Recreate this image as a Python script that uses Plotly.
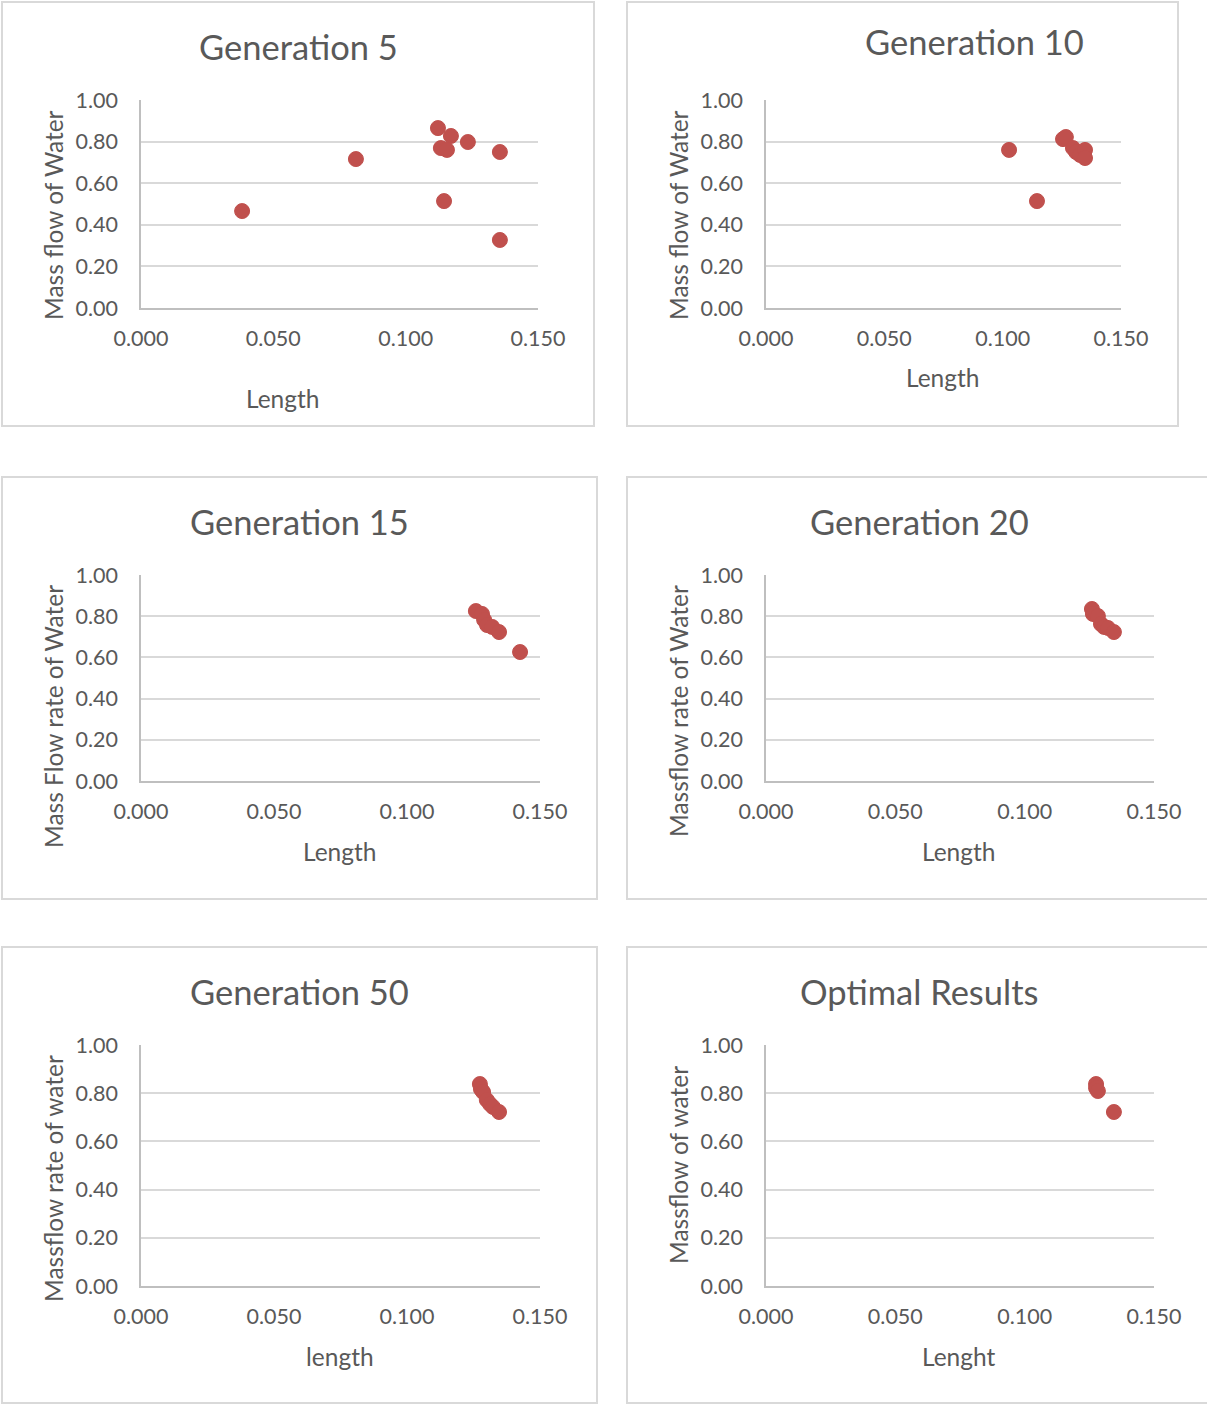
import plotly.graph_objects as go

W, H = 1207, 1405

# ---- data ----
gen5_length = [0.0382, 0.0812, 0.1122, 0.1171, 0.1133, 0.1156, 0.1235, 0.1356, 0.1145, 0.1356]
gen5_flow = [0.466, 0.716, 0.865, 0.827, 0.769, 0.760, 0.798, 0.750, 0.514, 0.327]

gen10_length = [0.1027, 0.1145, 0.1255, 0.1267, 0.1297, 0.1310, 0.1327, 0.1348, 0.1348]
gen10_flow = [0.760, 0.514, 0.812, 0.822, 0.769, 0.750, 0.736, 0.760, 0.721]

gen15_length = [0.1259, 0.1282, 0.1290, 0.1301, 0.1320, 0.1346, 0.1425]
gen15_flow = [0.825, 0.811, 0.782, 0.757, 0.748, 0.723, 0.626]

gen20_length = [0.1260, 0.1264, 0.1283, 0.1295, 0.1307, 0.1322, 0.1345]
gen20_flow = [0.835, 0.811, 0.801, 0.762, 0.748, 0.743, 0.723]

gen50_length = [0.1274, 0.1278, 0.1286, 0.1300, 0.1312, 0.1323, 0.1346]
gen50_flow = [0.838, 0.817, 0.805, 0.772, 0.755, 0.743, 0.722]

opt_length = [0.1276, 0.1276, 0.1283, 0.1345]
opt_flow = [0.838, 0.822, 0.809, 0.722]

titles = ["Generation 5", "Generation 10", "Generation 15", "Generation 20", "Generation 50", "Optimal Results"]
x_titles = ["Length", "Length", "Length", "Length", "length", "Lenght"]
y_titles = ["Mass flow of Water", "Mass flow of Water", "Mass Flow rate of Water",
            "Massflow rate of Water", "Massflow rate of water", "Massflow of water"]
series = [(gen5_length, gen5_flow), (gen10_length, gen10_flow), (gen15_length, gen15_flow),
          (gen20_length, gen20_flow), (gen50_length, gen50_flow), (opt_length, opt_flow)]

# ---- layout geometry (pixels) ----
plot_px = [(141, 538, 100, 308), (766, 1121, 100, 308),
           (141, 540, 575, 781), (766, 1154, 575, 781),
           (141, 540, 1045, 1286), (766, 1154, 1045, 1286)]
box_px = [(2, 594, 2, 426), (627, 1178, 2, 426),
          (2, 597, 477, 899), (627, 1210, 477, 899),
          (2, 597, 947, 1403), (627, 1210, 947, 1403)]
title_px = [(298, 47), (974, 42), (299, 521), (919, 521), (299, 991), (919, 991)]
xt_px = [(283, 398), (943, 378), (340, 851), (959, 851), (340, 1356), (959, 1356)]
yt_px = [(53, 215), (678, 215), (53, 717), (678, 711), (53, 1179), (678, 1165)]

FONT = "Lato"
GREY = "#595959"
RED = "#c0504d"

def px(x):
    return x / W

def py(y):
    return 1 - y / H

fig = go.Figure()
shapes = []
annotations = []
layout = dict(width=W, height=H, autosize=False, margin=dict(l=0, r=0, t=0, b=0, pad=0),
              paper_bgcolor="white", plot_bgcolor="white", showlegend=False,
              font=dict(family=FONT, color=GREY))

for i, ((xs, ys), (l, r, t, b)) in enumerate(zip(series, plot_px)):
    n = i + 1
    xa = "x" if n == 1 else f"x{n}"
    ya = "y" if n == 1 else f"y{n}"
    fig.add_trace(go.Scatter(x=xs, y=ys, mode="markers", xaxis=xa, yaxis=ya,
                             marker=dict(size=15, color=RED, line=dict(width=1, color=RED))))
    key = "" if n == 1 else str(n)
    layout["xaxis" + key] = dict(domain=[px(l), px(r)], anchor=ya, range=[0, 0.15],
                                 tickvals=[0, 0.05, 0.10, 0.15], tickformat=".3f",
                                 showgrid=False, zeroline=False, showline=True,
                                 linecolor="#bfbfbf", linewidth=1.5, ticks="",
                                 ticklabelstandoff=10, automargin=False,
                                 tickfont=dict(family=FONT, size=21.5, color=GREY))
    layout["yaxis" + key] = dict(domain=[py(b), py(t)], anchor=xa, range=[0, 1.0],
                                 tickvals=[0, 0.2, 0.4, 0.6, 0.8, 1.0], tickformat=".2f",
                                 showgrid=True, gridcolor="#d9d9d9", gridwidth=1.5,
                                 zeroline=False, showline=True, linecolor="#bfbfbf",
                                 linewidth=1.5, ticks="", ticklabelstandoff=17,
                                 automargin=False,
                                 tickfont=dict(family=FONT, size=21.5, color=GREY))

for (bl, br, bt, bb) in box_px:
    shapes.append(dict(type="rect", xref="paper", yref="paper",
                       x0=px(bl), x1=px(br), y0=py(bb), y1=py(bt),
                       line=dict(color="#d9d9d9", width=2), fillcolor="rgba(0,0,0,0)"))

for txt, (cx, cy) in zip(titles, title_px):
    annotations.append(dict(text=txt, x=px(cx), y=py(cy), xref="paper", yref="paper",
                            showarrow=False, xanchor="center", yanchor="middle",
                            font=dict(family=FONT, size=34.5, color=GREY)))
for txt, (cx, cy) in zip(x_titles, xt_px):
    annotations.append(dict(text=txt, x=px(cx), y=py(cy), xref="paper", yref="paper",
                            showarrow=False, xanchor="center", yanchor="middle",
                            font=dict(family=FONT, size=24.5, color=GREY)))
for txt, (cx, cy) in zip(y_titles, yt_px):
    annotations.append(dict(text=txt, x=px(cx), y=py(cy), xref="paper", yref="paper",
                            showarrow=False, xanchor="center", yanchor="middle", textangle=-90,
                            font=dict(family=FONT, size=24.5, color=GREY)))

layout["shapes"] = shapes
layout["annotations"] = annotations
fig.update_layout(**layout)
fig.write_html("out.html", config={"displayModeBar": False},
               post_script="document.body.style.margin='0';document.body.style.overflow='hidden';")
